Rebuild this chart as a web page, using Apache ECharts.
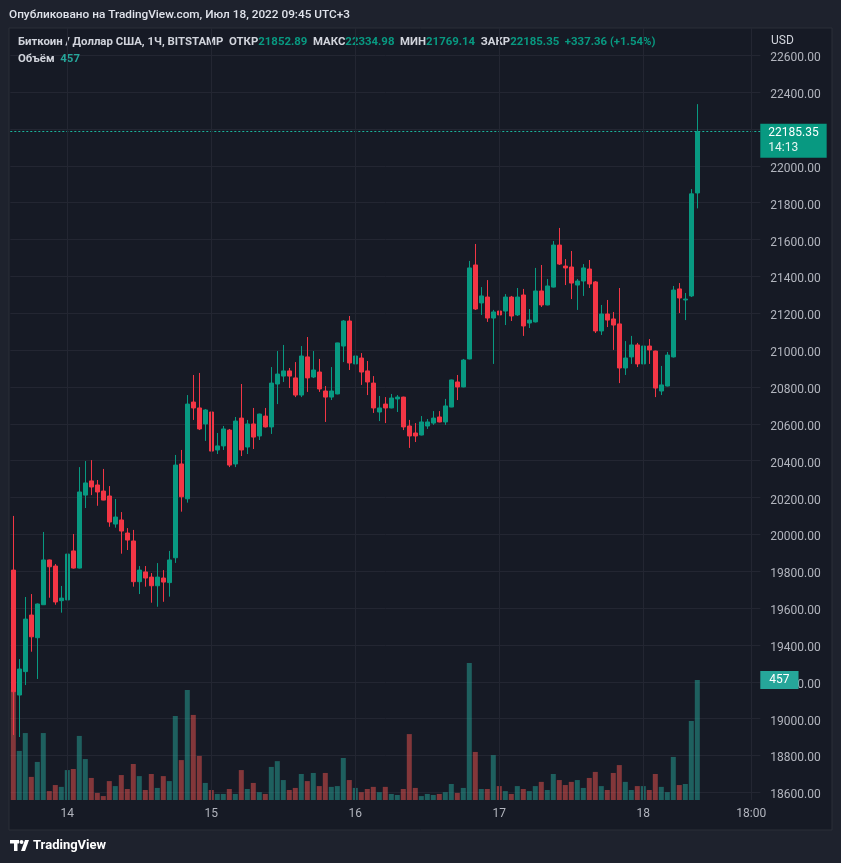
<!DOCTYPE html>
<html><head><meta charset="utf-8">
<script src="https://cdn.jsdelivr.net/npm/echarts@6/dist/echarts.min.js"></script>
<style>html,body{margin:0;padding:0;background:#1e222d;}#c{width:841px;height:863px;}</style>
</head><body><div id="c"></div>
<script>
// Hourly BTC/USD (Bitstamp), Jul 13 15:00 -> Jul 18 09:00
const opens = [19806,19128,19255,19562,19439,19618,19861,19828,19640,19644,19910,19817,20213,20290,20268,20235,20208,20056,20078,20007,
19964,19743,19796,19768,19721,19763,19738,19873,20382,20193,20718,20686,20599,20664,20458,20480,20566,20382,20631,20474,
20599,20534,20642,20583,20816,20859,20887,20849,20756,20963,20854,20881,20778,20745,20762,21022,21158,20925,20957,20887,
20821,20664,20707,20686,20735,20745,20588,20550,20539,20588,20604,20637,20610,20691,20827,20800,20952,21462,21256,21288,
21174,21212,21212,21288,21191,21299,21147,21153,21321,21245,21342,21570,21456,21451,21353,21375,21440,21370,21104,21196,
21169,21142,20903,20963,21028,20925,21022,20995,20778,20805,20963,21332,21272,21294,21852.89];
const closes = [19146,19269,19540,19444,19622,19861,19824,19633,19654,19893,19817,20230,20279,20257,20230,20186,20067,20094,20018,19969,
19743,19806,19763,19721,19768,19741,19861,20376,20204,20707,20686,20572,20675,20452,20480,20572,20376,20615,20458,20599,
20528,20653,20583,20821,20870,20887,20859,20756,20968,20849,20892,20789,20745,20778,21039,21158,20930,20968,20881,20827,
20686,20686,20686,20740,20745,20583,20534,20534,20610,20610,20631,20610,20697,20838,20800,20946,21446,21223,21294,21174,
21207,21191,21288,21185,21288,21131,21163,21321,21245,21348,21570,21467,21446,21364,21375,21446,21359,21104,21196,21163,
21136,20903,20957,21028,20925,21022,21001,20794,20811,20973,21326,21283,21277,21847.99,22185.35];
const lows = [18911,18900,19182,19363,19215,19617,19656,19618,19575,19640,19814,19815,20143,20213,20155,20185,20041,20036,19895,19915,
19716,19676,19716,19629,19607,19634,19662,19845,20123,20172,20621,20566,20507,20425,20436,20458,20365,20365,20425,20436,
20463,20512,20580,20545,20707,20827,20794,20745,20745,20773,20848,20773,20610,20729,20760,20935,20892,20821,20811,20756,
20659,20615,20604,20684,20664,20566,20469,20501,20537,20572,20594,20608,20594,20690,20729,20798,20950,21218,21191,21153,
20925,21093,21136,21158,21185,21077,21120,21150,21234,21243,21340,21462,21353,21277,21218,21294,21337,21093,21082,21125,
21001,20821,20865,20925,20908,20887,20925,20745,20756,20803,20960,21201,21163,21288,21769.14];
const highs = [20100,19323,19660,19676,19625,20013,19863,19839,19720,19942,20002,20365,20398,20403,20295,20355,20262,20192,20121,20034,
20024,19828,19828,19790,19844,19806,19910,20431,20458,20756,20865,20876,20680,20702,20550,20588,20572,20637,20816,20621,
20686,20655,20686,20908,20995,21028,20903,20935,21022,21071,20995,20952,20805,20908,21040,21163,21185,21017,20984,20941,
20859,20751,20745,20762,20756,20747,20621,20604,20642,20626,20669,20669,20735,20840,20865,20952,21484,21576,21342,21380,
21218,21337,21304,21294,21337,21332,21223,21446,21462,21386,21592,21663,21494,21538,21386,21467,21489,21375,21245,21272,
21207,21337,21049,21077,21039,21049,21060,20997,20914,20990,21348,21364,21310,21874,22334.98];
const volumes = [420,187,255,88,145,255,34,57,50,114,118,244,156,84,27,15,72,53,95,42,
137,91,38,99,46,91,72,320,152,419,324,168,65,38,23,23,42,23,114,42,
65,30,23,126,148,76,38,46,99,72,103,53,103,50,53,160,76,46,30,42,
50,30,50,23,19,42,251,46,15,23,19,23,30,61,27,46,522,183,42,42,
171,53,34,23,53,42,34,53,69,38,99,76,57,69,76,46,84,107,53,38,
103,133,69,38,53,53,38,99,50,30,164,57,61,301,457];
const startDay = 13, startHour = 15, futureSlots = 10;
const dayTicks = ['14 00:00','15 00:00','16 00:00','17 00:00','18 00:00','18 18:00'];
const tickLabels = ['14','15','16','17','18','18:00'];
const priceMin = 18600, priceMax = 22600, priceStep = 200;

const categories = [];
for (let i = 0; i < opens.length + futureSlots; i++) {
  const h = startHour + i;
  categories.push((startDay + Math.floor(h / 24)) + ' ' + String(h % 24).padStart(2, '0') + ':00');
}
const last = opens.length - 1;
const candleData = opens.map((o, i) => [o, closes[i], lows[i], highs[i]]);
const UP = '#089981', DOWN = '#F23645';
const volData = volumes.map((v, i) => ({
  value: v,
  itemStyle: { color: closes[i] >= opens[i] ? 'rgba(38,166,154,0.5)' : 'rgba(239,83,80,0.5)' }
}));
const chg = closes[last] - closes[last - 1];
const pct = chg / closes[last - 1] * 100;
const f2 = v => v.toFixed(2);
const FONT = 'Roboto, "Noto Sans", sans-serif';
const GRID = '#232632';
const TXT = '#d1d4dc';
const AX = '#b2b5be';
const LFS = 11.4;

const chart = echarts.init(document.getElementById('c'), null, { renderer: 'canvas' });
chart.setOption({
  animation: false,
  backgroundColor: '#1e222d',
  textStyle: { fontFamily: FONT },
  title: [
    { text: 'Опубликовано на TradingView.com, Июл 18, 2022 09:45 UTC+3', left: 9, top: 9, padding: 0,
      textStyle: { color: '#e0e3eb', fontSize: 11.8, fontWeight: 500, fontFamily: FONT } },
    { text: '{l|Биткоин / Доллар США, 1Ч, BITSTAMP}  {l|ОТКР}{v|' + f2(opens[last]) + '}  {l|МАКС}{v|' + f2(highs[last]) +
        '}  {l|МИН}{v|' + f2(lows[last]) + '}  {l|ЗАКР}{v|' + f2(closes[last]) + '}  {v|' + (chg >= 0 ? '+' : '') + f2(chg) +
        ' (' + (chg >= 0 ? '+' : '') + f2(pct) + '%)}',
      left: 18, top: 37, padding: 0,
      textStyle: { fontSize: LFS, fontFamily: FONT, rich: {
        l: { color: TXT, fontSize: LFS, fontFamily: FONT },
        v: { color: UP, fontSize: LFS, fontFamily: FONT } } } },
    { text: '{l|Объём}  {v|' + volumes[last] + '}', left: 18, top: 54, padding: 0,
      textStyle: { fontSize: LFS, fontFamily: FONT, rich: {
        l: { color: TXT, fontSize: LFS, fontFamily: FONT },
        v: { color: '#26a69a', fontSize: LFS, fontFamily: FONT } } } }
  ],
  graphic: [
    { type: 'rect', z: -100, silent: true, shape: { x: 9, y: 28, width: 823, height: 802 },
      style: { fill: '#161a25', stroke: '#2a2e39', lineWidth: 1 } },
    { type: 'text', left: 771, top: 35, silent: true,
      style: { text: 'USD', fill: TXT, font: '12px ' + FONT } },
    { type: 'group', left: 10, top: 839, silent: true, children: [
      { type: 'rect', shape: { x: 0, y: 0, width: 9, height: 3.5 }, style: { fill: '#ffffff' } },
      { type: 'rect', shape: { x: 4, y: 0, width: 3.5, height: 11 }, style: { fill: '#ffffff' } },
      { type: 'circle', shape: { cx: 11.5, cy: 2, r: 2 }, style: { fill: '#ffffff' } },
      { type: 'polygon', shape: { points: [[15, 0], [19, 0], [15, 11], [11, 11]] }, style: { fill: '#ffffff' } },
      { type: 'text', x: 23, y: -1, style: { text: 'TradingView', fill: '#ffffff', font: 'bold 13px ' + FONT } }
    ] }
  ],
  grid: [
    { left: 10.3, width: 750, top: 55.3, height: 737, outerBoundsMode: 'none' },
    { left: 10.3, width: 750, top: 28, height: 772, outerBoundsMode: 'none' }
  ],
  xAxis: [
    { type: 'category', gridIndex: 0, data: categories, boundaryGap: true,
      axisLine: { show: false }, axisTick: { show: false }, axisLabel: { show: false }, splitLine: { show: false } },
    { type: 'category', gridIndex: 1, data: categories, boundaryGap: true,
      axisLine: { show: false }, axisTick: { show: false }, splitLine: { show: false },
      axisLabel: { color: AX, fontSize: 12, fontFamily: FONT, margin: 8,
        interval: (idx, val) => dayTicks.includes(val),
        formatter: val => { const k = dayTicks.indexOf(val); return k >= 0 ? tickLabels[k] : ''; } } }
  ],
  yAxis: [
    { type: 'value', gridIndex: 0, position: 'right', min: priceMin, max: priceMax, interval: priceStep,
      axisLine: { show: false }, axisTick: { show: false },
      axisLabel: { color: AX, fontSize: 12, fontFamily: FONT, margin: 10, verticalAlign: 'top', lineHeight: 6,
        formatter: v => v.toFixed(2) },
      splitLine: { lineStyle: { color: GRID, width: 1 } } },
    { type: 'value', gridIndex: 1, min: 0, max: 2940, show: false, splitLine: { show: false } }
  ],
  series: [
    { type: 'bar', name: 'Volume', xAxisIndex: 1, yAxisIndex: 1, data: volData, barWidth: 5, z: 1,
      markLine: { silent: true, symbol: ['none', 'none'], animation: false, z: 10,
        data: dayTicks.map(t => ({ xAxis: t, lineStyle: { color: GRID, type: 'solid', width: 1 }, label: { show: false } })).concat([
          { yAxis: volumes[last], lineStyle: { color: 'rgba(0,0,0,0)', width: 0 },
            label: { show: true, position: 'end', distance: 0, formatter: String(volumes[last]),
              backgroundColor: '#26a69a', color: '#ffffff', padding: [3, 9, 3, 9], fontSize: 12, fontFamily: FONT } }
        ]) } },
    { type: 'candlestick', name: 'BTCUSD', xAxisIndex: 0, yAxisIndex: 0, data: candleData, barWidth: 4, z: 3,
      itemStyle: { color: UP, color0: DOWN, borderColor: UP, borderColor0: DOWN, borderWidth: 1 },
      markLine: { silent: true, symbol: ['none', 'none'], animation: false,
        data: [ { yAxis: closes[last],
          lineStyle: { color: '#1bb39a', type: [2, 2], width: 1 },
          label: { show: true, position: 'end', distance: 0, offset: [0, 9],
            formatter: '{a|' + f2(closes[last]) + '}\n{b|14:13}',
            backgroundColor: UP, padding: [2, 8, 2, 8],
            rich: { a: { color: '#ffffff', fontSize: 12, lineHeight: 15, fontFamily: FONT },
                    b: { color: '#e6f5f2', fontSize: 12, lineHeight: 15, fontFamily: FONT } } } } ] } }
  ]
});
</script></body></html>
